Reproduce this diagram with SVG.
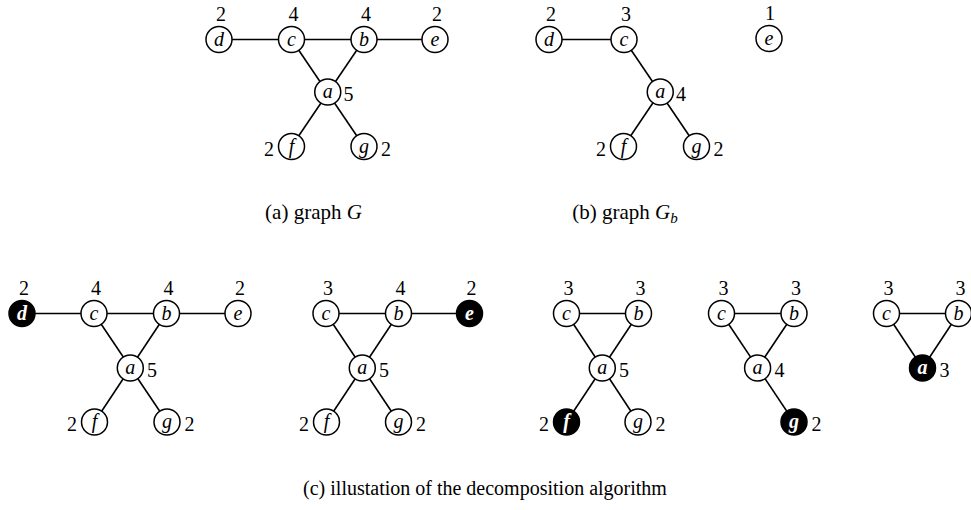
<svg xmlns="http://www.w3.org/2000/svg" width="971" height="510" viewBox="0 0 971 510">
<style>
.e{stroke:#000;stroke-width:1.6;fill:none}
.n{fill:#fff;stroke:#000;stroke-width:1.5}
.nf{fill:#000;stroke:#000;stroke-width:1.5}
.l{font-family:"Liberation Serif",serif;font-style:italic;font-size:20px;text-anchor:middle;fill:#000}
.lf{font-family:"Liberation Serif",serif;font-style:italic;font-weight:bold;font-size:20px;text-anchor:middle;fill:#fff}
.d{font-family:"Liberation Serif",serif;font-size:20px;text-anchor:middle;fill:#000}
.dr{text-anchor:start}
.dl{text-anchor:end}
.cap{font-family:"Liberation Serif",serif;font-size:20px;text-anchor:middle;fill:#000}
.capab{font-family:"Liberation Serif",serif;font-size:21px;text-anchor:middle;fill:#000}
</style>
<rect width="971" height="510" fill="#fff"/>

<!-- Graph (a) -->
<g id="graphA">
<g id="ga-edges">
<line class="e" x1="219" y1="39.5" x2="435" y2="39.5"/>
<line class="e" x1="291.5" y1="39.5" x2="364" y2="146.5"/>
<line class="e" x1="364" y1="39.5" x2="291.5" y2="146.5"/>
</g>
<g id="ga-d"><circle class="n" cx="219" cy="39.5" r="13"/><text class="l" x="219" y="45.5">d</text><text class="d" x="221" y="21">2</text></g>
<g id="ga-c"><circle class="n" cx="291.5" cy="39.5" r="13"/><text class="l" x="291.5" y="45.5">c</text><text class="d" x="293.5" y="21">4</text></g>
<g id="ga-b"><circle class="n" cx="364" cy="39.5" r="13"/><text class="l" x="364" y="45.5">b</text><text class="d" x="366" y="21">4</text></g>
<g id="ga-e"><circle class="n" cx="435" cy="39.5" r="13"/><text class="l" x="435" y="45.5">e</text><text class="d" x="437" y="21">2</text></g>
<g id="ga-a"><circle class="n" cx="327.75" cy="92" r="13"/><text class="l" x="327.75" y="98">a</text><text class="d dr" x="343.5" y="101">5</text></g>
<g id="ga-f"><circle class="n" cx="291.5" cy="146.5" r="13"/><text class="l" x="291.5" y="152.5">f</text><text class="d dl" x="274" y="155.5">2</text></g>
<g id="ga-g"><circle class="n" cx="364" cy="146.5" r="13"/><text class="l" x="364" y="152.5">g</text><text class="d dr" x="381" y="155.5">2</text></g>
</g>

<!-- Graph (b) -->
<g id="graphB">
<g id="gb-edges">
<line class="e" x1="549" y1="39.5" x2="624" y2="39.5"/>
<line class="e" x1="624" y1="39.5" x2="696.5" y2="146.5"/>
<line class="e" x1="660.25" y1="92" x2="623.5" y2="146.5"/>
</g>
<g id="gb-d"><circle class="n" cx="549" cy="39.5" r="13"/><text class="l" x="549" y="45.5">d</text><text class="d" x="551" y="21">2</text></g>
<g id="gb-c"><circle class="n" cx="624" cy="39.5" r="13"/><text class="l" x="624" y="45.5">c</text><text class="d" x="626" y="21">3</text></g>
<g id="gb-e"><circle class="n" cx="769" cy="38.5" r="13"/><text class="l" x="769" y="44.5">e</text><text class="d" x="770" y="20">1</text></g>
<g id="gb-a"><circle class="n" cx="660.25" cy="92" r="13"/><text class="l" x="660.25" y="98">a</text><text class="d dr" x="676" y="101">4</text></g>
<g id="gb-f"><circle class="n" cx="623.5" cy="146.5" r="13"/><text class="l" x="623.5" y="152.5">f</text><text class="d dl" x="606" y="155.5">2</text></g>
<g id="gb-g"><circle class="n" cx="696.5" cy="146.5" r="13"/><text class="l" x="696.5" y="152.5">g</text><text class="d dr" x="713.5" y="155.5">2</text></g>
</g>

<text class="capab" x="313.5" y="219">(a) graph <tspan font-style="italic">G</tspan></text>
<text class="capab" x="625" y="219">(b) graph <tspan font-style="italic">G</tspan><tspan font-style="italic" font-size="15" dy="4">b</tspan></text>

<!-- (c) step 1 -->
<g id="graphC1">
<g id="c1-edges">
<line class="e" x1="22" y1="313.5" x2="238" y2="313.5"/>
<line class="e" x1="94" y1="313.5" x2="167" y2="422"/>
<line class="e" x1="166.5" y1="313.5" x2="94.5" y2="422"/>
</g>
<g id="c1-d"><circle class="nf" cx="22" cy="313.5" r="13"/><text class="lf" x="22" y="319.5">d</text><text class="d" x="24" y="295">2</text></g>
<g id="c1-c"><circle class="n" cx="94" cy="313.5" r="13"/><text class="l" x="94" y="319.5">c</text><text class="d" x="96" y="295">4</text></g>
<g id="c1-b"><circle class="n" cx="166.5" cy="313.5" r="13"/><text class="l" x="166.5" y="319.5">b</text><text class="d" x="168.5" y="295">4</text></g>
<g id="c1-e"><circle class="n" cx="238" cy="313.5" r="13"/><text class="l" x="238" y="319.5">e</text><text class="d" x="240" y="295">2</text></g>
<g id="c1-a"><circle class="n" cx="130.3" cy="368" r="13"/><text class="l" x="130.3" y="374">a</text><text class="d dr" x="147" y="377">5</text></g>
<g id="c1-f"><circle class="n" cx="94.5" cy="422" r="13"/><text class="l" x="94.5" y="428">f</text><text class="d dl" x="77" y="431">2</text></g>
<g id="c1-g"><circle class="n" cx="167" cy="422" r="13"/><text class="l" x="167" y="428">g</text><text class="d dr" x="184.5" y="431">2</text></g>
</g>

<!-- (c) step 2 -->
<g id="graphC2">
<g id="c2-edges">
<line class="e" x1="326" y1="313.5" x2="469.5" y2="313.5"/>
<line class="e" x1="326" y1="313.5" x2="398.5" y2="422"/>
<line class="e" x1="398.5" y1="313.5" x2="326.5" y2="422"/>
</g>
<g id="c2-c"><circle class="n" cx="326" cy="313.5" r="13"/><text class="l" x="326" y="319.5">c</text><text class="d" x="328" y="295">3</text></g>
<g id="c2-b"><circle class="n" cx="398.5" cy="313.5" r="13"/><text class="l" x="398.5" y="319.5">b</text><text class="d" x="400.5" y="295">4</text></g>
<g id="c2-e"><circle class="nf" cx="469.5" cy="313.5" r="13"/><text class="lf" x="469.5" y="319.5">e</text><text class="d" x="471.5" y="295">2</text></g>
<g id="c2-a"><circle class="n" cx="362.3" cy="368" r="13"/><text class="l" x="362.3" y="374">a</text><text class="d dr" x="379" y="377">5</text></g>
<g id="c2-f"><circle class="n" cx="326.5" cy="422" r="13"/><text class="l" x="326.5" y="428">f</text><text class="d dl" x="309" y="431">2</text></g>
<g id="c2-g"><circle class="n" cx="398.5" cy="422" r="13"/><text class="l" x="398.5" y="428">g</text><text class="d dr" x="416" y="431">2</text></g>
</g>

<!-- (c) step 3 -->
<g id="graphC3">
<g id="c3-edges">
<line class="e" x1="566.5" y1="313.5" x2="638.5" y2="313.5"/>
<line class="e" x1="566.5" y1="313.5" x2="638" y2="422"/>
<line class="e" x1="638.5" y1="313.5" x2="566.5" y2="422"/>
</g>
<g id="c3-c"><circle class="n" cx="566.5" cy="313.5" r="13"/><text class="l" x="566.5" y="319.5">c</text><text class="d" x="568.5" y="295">3</text></g>
<g id="c3-b"><circle class="n" cx="638.5" cy="313.5" r="13"/><text class="l" x="638.5" y="319.5">b</text><text class="d" x="640.5" y="295">3</text></g>
<g id="c3-a"><circle class="n" cx="602.3" cy="368" r="13"/><text class="l" x="602.3" y="374">a</text><text class="d dr" x="619" y="377">5</text></g>
<g id="c3-f"><circle class="nf" cx="566.5" cy="422" r="13"/><text class="lf" x="566.5" y="428">f</text><text class="d dl" x="549" y="431">2</text></g>
<g id="c3-g"><circle class="n" cx="638" cy="422" r="13"/><text class="l" x="638" y="428">g</text><text class="d dr" x="655.5" y="431">2</text></g>
</g>

<!-- (c) step 4 -->
<g id="graphC4">
<g id="c4-edges">
<line class="e" x1="721.5" y1="313.5" x2="794" y2="313.5"/>
<line class="e" x1="721.5" y1="313.5" x2="794" y2="422"/>
<line class="e" x1="794" y1="313.5" x2="757.5" y2="368"/>
</g>
<g id="c4-c"><circle class="n" cx="721.5" cy="313.5" r="13"/><text class="l" x="721.5" y="319.5">c</text><text class="d" x="723.5" y="295">3</text></g>
<g id="c4-b"><circle class="n" cx="794" cy="313.5" r="13"/><text class="l" x="794" y="319.5">b</text><text class="d" x="796" y="295">3</text></g>
<g id="c4-a"><circle class="n" cx="757.6" cy="368" r="13"/><text class="l" x="757.6" y="374">a</text><text class="d dr" x="774.5" y="377">4</text></g>
<g id="c4-g"><circle class="nf" cx="794" cy="422" r="13"/><text class="lf" x="794" y="428">g</text><text class="d dr" x="811.5" y="431">2</text></g>
</g>

<!-- (c) step 5 -->
<g id="graphC5">
<g id="c5-edges">
<line class="e" x1="886.5" y1="313.5" x2="958.5" y2="313.5"/>
<line class="e" x1="886.5" y1="313.5" x2="922.5" y2="368"/>
<line class="e" x1="958.5" y1="313.5" x2="922.5" y2="368"/>
</g>
<g id="c5-c"><circle class="n" cx="886.5" cy="313.5" r="13"/><text class="l" x="886.5" y="319.5">c</text><text class="d" x="888.5" y="295">3</text></g>
<g id="c5-b"><circle class="n" cx="958.5" cy="313.5" r="13"/><text class="l" x="958.5" y="319.5">b</text><text class="d" x="960.5" y="295">3</text></g>
<g id="c5-a"><circle class="nf" cx="922.5" cy="368" r="13"/><text class="lf" x="922.5" y="374">a</text><text class="d dr" x="939.5" y="377">3</text></g>
</g>

<text class="cap" x="485" y="495">(c) illustation of the decomposition algorithm</text>
</svg>
